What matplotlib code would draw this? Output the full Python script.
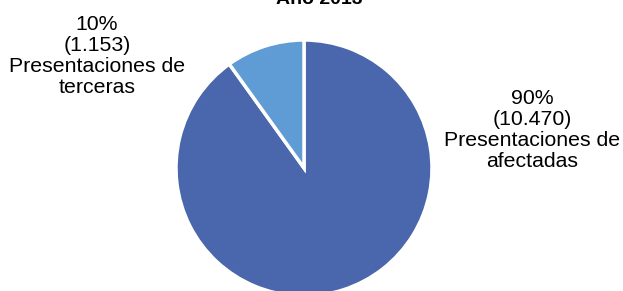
import matplotlib
matplotlib.use("Agg")
import matplotlib.pyplot as plt

# data
labels = ["Presentaciones de\nafectadas", "Presentaciones de\nterceras"]
values = [10470, 1153]
value_text = ["10.470", "1.153"]
colors = ["#4A66AC", "#5F9BD4"]
title = "Año 2013"

plt.rcParams['font.family'] = ['Liberation Sans', 'DejaVu Sans']

W, H = 623, 291
fig = plt.figure(figsize=(W / 100, H / 100), dpi=100)

# pie centered at (304, 168) px, radius 128 px
cx, cy, r = 304, 168, 128
ax = fig.add_axes([(cx - r) / W, (H - cy - r) / H, 2 * r / W, 2 * r / H])
ax.pie(values, colors=colors, startangle=90, counterclock=False,
       wedgeprops=dict(edgecolor="white", linewidth=2.5))
ax.set_xlim(-1, 1)
ax.set_ylim(-1, 1)
ax.axis("off")

total = sum(values)
pct = [round(v / total * 100) for v in values]

# data labels (positions in figure pixels)
label_pos = [(532, 130), (97, 56)]
for lab, p, vt, (x, y) in zip(labels, pct, value_text, label_pos):
    fig.text(x / W, 1 - y / H, f"{p}%\n({vt})\n{lab}", ha="center", va="center",
             fontsize=15.3, linespacing=1.14, color="black")

# title is mostly outside the top edge, as in the original
fig.text(319 / W, 1 - 3.5 / H, title, ha="center", va="baseline",
         fontsize=14, fontweight="bold")

fig.savefig("out.png", dpi=100)
